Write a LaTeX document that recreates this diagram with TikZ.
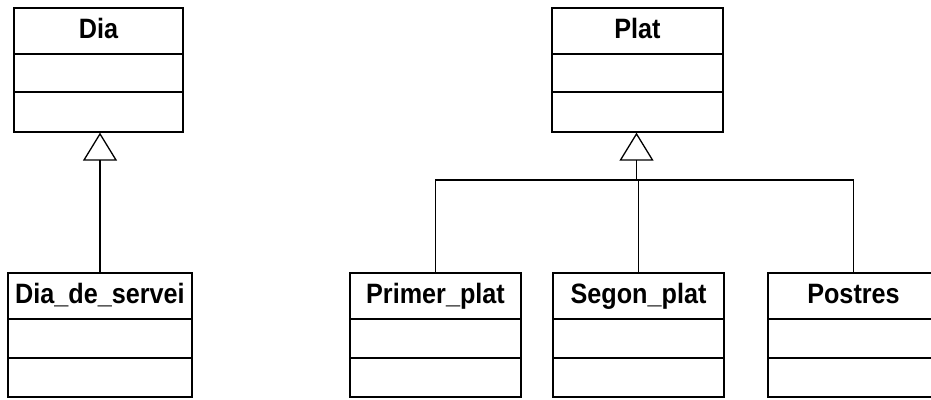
\documentclass[tikz,border=0pt]{standalone}
\usepackage{fontspec}
\newfontfamily\umlfont[FakeStretch=0.9]{Liberation Sans}
\usetikzlibrary{arrows.meta}
\begin{document}
\begin{tikzpicture}[x=1pt,y=-1pt,
  comp/.style={draw=black, line width=1.3pt, rectangle, inner sep=0pt, fill=white},
  titlebox/.style={comp, minimum height=46pt, text height=20pt, text depth=6pt,
    font=\umlfont\bfseries\fontsize{28}{30}\selectfont},
  inherit/.style={line width=1.3pt, -{Triangle[open, length=28pt, width=34pt, line width=1.3pt]}},
  link/.style={line width=1.3pt}]
\useasboundingbox (0,0) rectangle (931,399);
% Dia
\node[titlebox, minimum width=169pt] (dia) at (98.5,31) {Dia};
\node[comp, minimum width=169pt, minimum height=38pt] (dia-a) at (98.5,73) {};
\node[comp, minimum width=169pt, minimum height=40pt] (dia-m) at (98.5,112) {};
% Plat
\node[titlebox, minimum width=171pt] (plat) at (637.5,31) {Plat};
\node[comp, minimum width=171pt, minimum height=38pt] (plat-a) at (637.5,73) {};
\node[comp, minimum width=171pt, minimum height=40pt] (plat-m) at (637.5,112) {};
% Dia_de_servei
\node[titlebox, minimum width=184pt] (ds) at (100,296) {Dia\_de\_servei};
\node[comp, minimum width=184pt, minimum height=39pt] (ds-a) at (100,338.5) {};
\node[comp, minimum width=184pt, minimum height=39pt] (ds-m) at (100,377.5) {};
% Primer_plat
\node[titlebox, minimum width=171pt] (pp) at (435.5,296) {Primer\_plat};
\node[comp, minimum width=171pt, minimum height=39pt] (pp-a) at (435.5,338.5) {};
\node[comp, minimum width=171pt, minimum height=39pt] (pp-m) at (435.5,377.5) {};
% Segon_plat
\node[titlebox, minimum width=171pt] (sp) at (638.5,296) {Segon\_plat};
\node[comp, minimum width=171pt, minimum height=39pt] (sp-a) at (638.5,338.5) {};
\node[comp, minimum width=171pt, minimum height=39pt] (sp-m) at (638.5,377.5) {};
% Postres
\node[titlebox, minimum width=171pt] (po) at (853.5,296) {Postres};
\node[comp, minimum width=171pt, minimum height=39pt] (po-a) at (853.5,338.5) {};
\node[comp, minimum width=171pt, minimum height=39pt] (po-m) at (853.5,377.5) {};
% connectors
\draw[inherit] (ds.north) -- (ds.north |- dia-m.south);
\coordinate (j) at (636.5,180);
\draw[inherit] (j) -- (j |- plat-m.south);
\draw[link] (pp.north) |- (j) -| (po.north);
\draw[link] (sp.north) -- (sp.north |- j);
\end{tikzpicture}
\end{document}
